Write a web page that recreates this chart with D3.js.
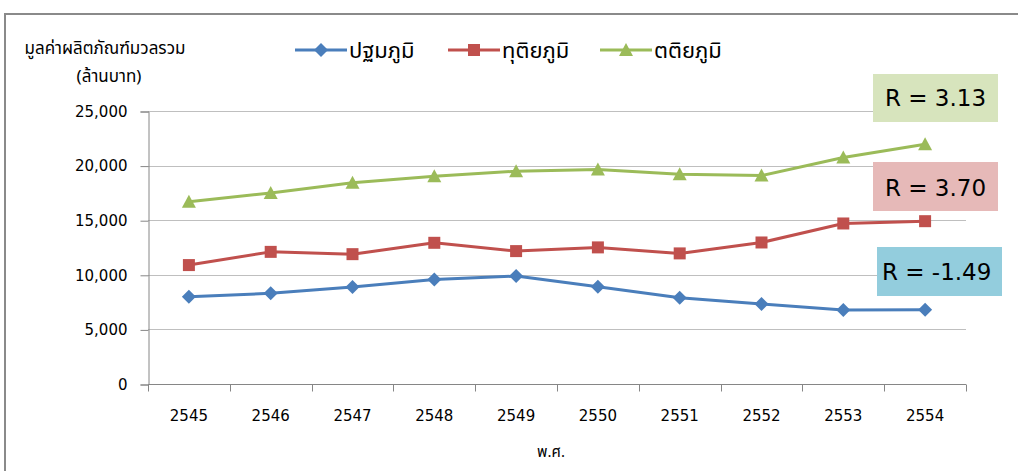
<!DOCTYPE html>
<html>
<head>
<meta charset="utf-8">
<script src="https://cdn.jsdelivr.net/npm/d3@7"></script>
<style>
  html, body { margin: 0; padding: 0; background: #fff; }
  svg { display: block; }
  text { font-family: "DejaVu Sans", Tahoma, sans-serif; fill: #000; }
  .thai { font-family: "Noto Sans Thai", "Noto Sans Thai UI", Tahoma, "DejaVu Sans", sans-serif; }
</style>
</head>
<body>
<svg id="chart" width="1018" height="471"></svg>
<script>
// Years (Buddhist Era) on the category axis
const years = ["2545", "2546", "2547", "2548", "2549", "2550", "2551", "2552", "2553", "2554"];

// Total product value by sector, million baht
const primary   = [7990, 8300, 8880, 9580, 9880, 8900, 7900, 7320, 6770, 6800];
const secondary = [10890, 12100, 11890, 12930, 12170, 12510, 11960, 12960, 14700, 14910];
const tertiary  = [16680, 17500, 18420, 19030, 19490, 19650, 19210, 19090, 20740, 21960];

const seriesNames = ["ปฐมภูมิ", "ทุติยภูมิ", "ตติยภูมิ"];
const yTicks = [0, 5000, 10000, 15000, 20000, 25000];

// Growth rate labels for each sector
const rLabels = ["R = -1.49", "R = 3.70", "R = 3.13"];

const colors = ["#4a7ebb", "#c0504d", "#9bbb59"];
const boxColors = ["#93cddd", "#e6b9b8", "#d7e4bd"];
const markers = ["diamond", "square", "triangle"];

const svg = d3.select("#chart");

// chart frame
svg.append("path")
  .attr("d", "M5,471 L5,14 L1018,14")
  .attr("fill", "none")
  .attr("stroke", "#8a8a8a")
  .attr("stroke-width", 2);

const x = d3.scaleBand().domain(years).range([148, 966]).padding(0);
const y = d3.scaleLinear().domain([0, 25000]).range([384, 111]);

// horizontal gridlines
svg.append("g")
  .selectAll("line")
  .data(yTicks.filter(d => d > 0))
  .join("line")
  .attr("x1", 148).attr("x2", 966)
  .attr("y1", d => Math.round(y(d)) + 0.5)
  .attr("y2", d => Math.round(y(d)) + 0.5)
  .attr("stroke", "#bfbfbf")
  .attr("stroke-width", 1);

// y axis
const yAxis = svg.append("g")
  .attr("transform", "translate(148.5,0.5)")
  .call(d3.axisLeft(y).tickValues(yTicks).tickSize(8).tickPadding(13)
    .tickFormat(d3.format(",")));
yAxis.select(".domain").attr("stroke", "#868686");
yAxis.selectAll(".tick line").attr("stroke", "#868686");
yAxis.selectAll(".tick text")
  .style("font-family", "'DejaVu Sans', Tahoma, sans-serif")
  .style("font-size", "15px")
  .attr("fill", "#000");

// x axis: ticks sit on category boundaries
const xAxisG = svg.append("g").attr("transform", "translate(0," + (Math.round(y(0)) + 0.5) + ")");
xAxisG.append("line")
  .attr("x1", 148).attr("x2", 966).attr("y1", 0).attr("y2", 0)
  .attr("stroke", "#868686");
const bounds = years.map(d => x(d)).concat([x(years[years.length - 1]) + x.bandwidth()]);
xAxisG.selectAll("line.tk")
  .data(bounds)
  .join("line")
  .attr("class", "tk")
  .attr("x1", d => Math.round(d) + 0.5).attr("x2", d => Math.round(d) + 0.5)
  .attr("y1", 0).attr("y2", 7)
  .attr("stroke", "#868686");
xAxisG.selectAll("text")
  .data(years)
  .join("text")
  .attr("x", d => x(d) + x.bandwidth() / 2)
  .attr("y", 36)
  .attr("text-anchor", "middle")
  .style("font-size", "15px")
  .text(d => d);

// axis titles
svg.append("text").attr("class", "thai")
  .attr("x", 105).attr("y", 54).attr("text-anchor", "middle")
  .style("font-size", "17px")
  .text("มูลค่าผลิตภัณฑ์มวลรวม");
svg.append("text").attr("class", "thai")
  .attr("x", 109).attr("y", 82).attr("text-anchor", "middle")
  .style("font-size", "17px")
  .text("(ล้านบาท)");
svg.append("text").attr("class", "thai")
  .attr("x", 551).attr("y", 457).attr("text-anchor", "middle")
  .style("font-size", "15px")
  .text("พ.ศ.");

// marker path generator
function markerPath(type) {
  if (type === "diamond") return "M0,-7 L7,0 L0,7 L-7,0 Z";
  if (type === "square") return "M-6,-6 L6,-6 L6,6 L-6,6 Z";
  return "M0,-7 L7,6 L-7,6 Z";
}

const allSeries = [primary, secondary, tertiary];
const line = d3.line()
  .x((d, i) => x(years[i]) + x.bandwidth() / 2)
  .y(d => y(d));

allSeries.forEach((vals, k) => {
  const g = svg.append("g");
  g.append("path")
    .attr("d", line(vals))
    .attr("fill", "none")
    .attr("stroke", colors[k])
    .attr("stroke-width", 3)
    .attr("stroke-linejoin", "round");
  g.selectAll("path.m")
    .data(vals)
    .join("path")
    .attr("class", "m")
    .attr("d", markerPath(markers[k]))
    .attr("transform", (d, i) => `translate(${x(years[i]) + x.bandwidth() / 2},${y(d)})`)
    .attr("fill", colors[k]);
});

// legend
const legendX = [295, 448, 600];
seriesNames.forEach((name, k) => {
  const g = svg.append("g").attr("transform", `translate(${legendX[k]},50)`);
  g.append("line").attr("x1", 0).attr("x2", 52).attr("y1", 0).attr("y2", 0)
    .attr("stroke", colors[k]).attr("stroke-width", 3);
  g.append("path").attr("d", markerPath(markers[k]))
    .attr("transform", "translate(26,0)")
    .attr("fill", colors[k]);
  g.append("text").attr("class", "thai")
    .attr("x", 54).attr("y", 8)
    .style("font-size", "22px")
    .text(name);
});

// growth-rate boxes, one per series
const boxes = [
  { x: 877, y: 247, w: 125, h: 49, tx: 882, ty: 280 },
  { x: 873, y: 162, w: 125, h: 49, tx: 885, ty: 196 },
  { x: 873, y: 74,  w: 125, h: 48, tx: 885, ty: 106 }
];
boxes.forEach((b, k) => {
  svg.append("rect")
    .attr("x", b.x).attr("y", b.y).attr("width", b.w).attr("height", b.h)
    .attr("fill", boxColors[k]);
  svg.append("text")
    .attr("x", b.tx).attr("y", b.ty)
    .style("font-size", "23px")
    .text(rLabels[k]);
});
</script>
</body>
</html>
